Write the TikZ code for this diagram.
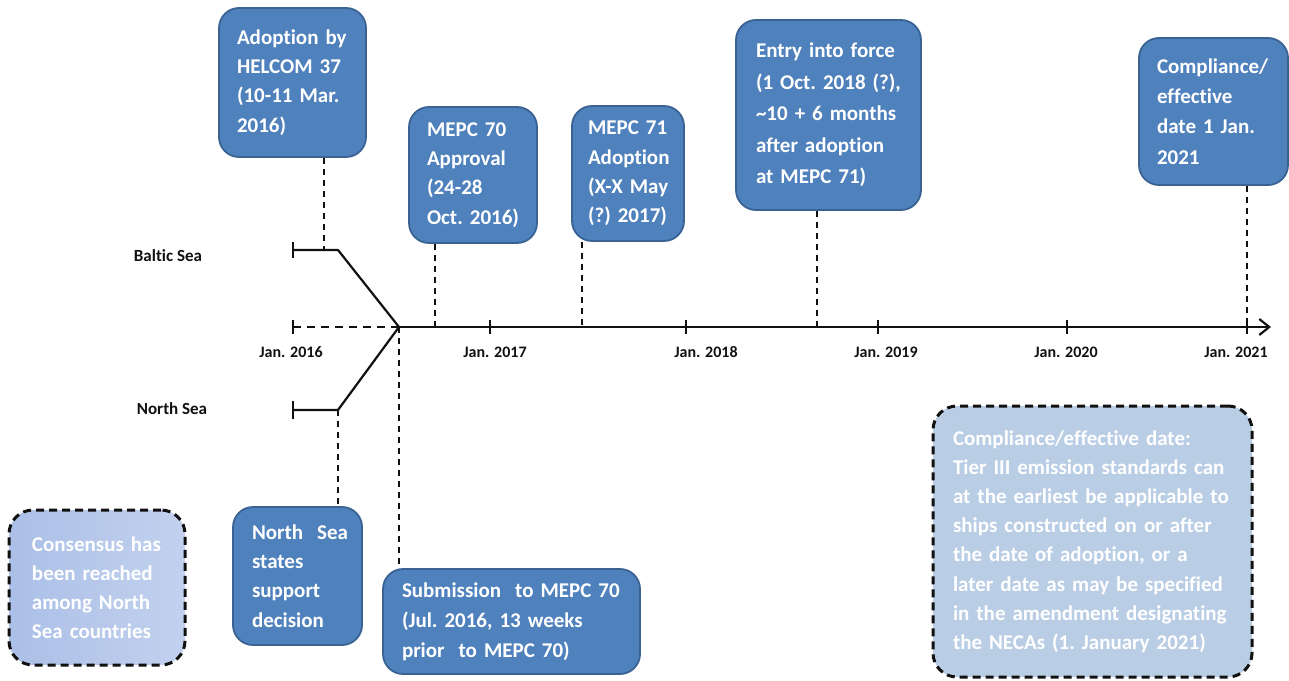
\documentclass[tikz,border=0pt]{standalone}
\usepackage{fontspec}
\setmainfont{Carlito}[Ligatures=NoCommon]
\usetikzlibrary{arrows.meta}
\hyphenpenalty=10000
\exhyphenpenalty=10000
\definecolor{boxblue}{HTML}{4F81BD}
\definecolor{boxedge}{HTML}{3A6394}
\definecolor{notefill}{HTML}{B9CDE5}
\definecolor{consA}{HTML}{ABBFE7}
\definecolor{consB}{HTML}{C2D1EE}
\definecolor{inkline}{HTML}{111111}
\newcommand\boxfont{\bfseries\fontsize{10.5}{14.6}\selectfont}
\begin{document}
\begin{tikzpicture}[x=0.5pt,y=-0.5pt,line join=round,
  evbox/.style={draw=boxedge, line width=0.9pt, fill=boxblue, rounded corners=10pt,
    text=white, font=\boxfont, align=left, inner xsep=9pt, inner ysep=0pt,
    execute at begin node={\hyphenpenalty=10000\exhyphenpenalty=10000}},
  notebox/.style={draw=inkline, line width=1.5pt, dash pattern=on 4pt off 2.5pt,
    rounded corners=12pt, text=white, font=\boxfont, align=left, inner ysep=0pt,
    execute at begin node={\hyphenpenalty=10000\exhyphenpenalty=10000}},
  guide/.style={draw=inkline, line width=0.8pt, dash pattern=on 3pt off 2.5pt},
  axisline/.style={draw=inkline, line width=1.1pt},
  yearlbl/.style={font=\bfseries\fontsize{8}{9.6}\selectfont, text=inkline, inner sep=0pt},
  sealbl/.style={font=\bfseries\fontsize{8.5}{10}\selectfont, text=inkline, inner sep=0pt}]
\useasboundingbox (0,0) rectangle (1289,680);

% --- coordinates on the time axis
\coordinate (start) at (293,327);
\coordinate (merge) at (399,327);
\coordinate (axend) at (1271,327);
\coordinate (t17) at (490,327);
\coordinate (t18) at (686,327);
\coordinate (t19) at (878,327);
\coordinate (t20) at (1067,327);
\coordinate (t21) at (1247,327);
\coordinate (p70) at (435,327);
\coordinate (p71) at (582,327);
\coordinate (pentry) at (817,327);
\coordinate (bstart) at (293,250);
\coordinate (bjoin) at (338,250);
\coordinate (bhel) at (324,250);
\coordinate (nstart) at (293,410);
\coordinate (njoin) at (338,410);

% --- event boxes
\node[evbox, minimum width=73.5pt, minimum height=74.5pt, text width=55.5pt] (adopt) at (292.5,82.5)
  {Adoption~by\\HELCOM~37\\(10-11~Mar.\\2016)};
\node[evbox, minimum width=64pt, minimum height=68pt, text width=46pt] (mepc70) at (473,175)
  {MEPC~70\\Approval\\(24-28\\Oct.~2016)};
\node[evbox, inner xsep=8pt, minimum width=56pt, minimum height=67.5pt, text width=40pt] (mepc71) at (628,173.5)
  {MEPC~71\\Adoption\\(X-X~May\\(?)~2017)};
\node[evbox, inner xsep=10pt, minimum width=92.5pt, minimum height=95pt, text width=72.5pt,
  font=\bfseries\fontsize{10.5}{15.8}\selectfont] (entry) at (828.5,115)
  {Entry~into~force\\(1~Oct.~2018~(?),\\\textasciitilde10~+~6~months\\after~adoption\\at~MEPC~71)};
\node[evbox, minimum width=74.5pt, minimum height=73.5pt, text width=56.5pt,
  font=\bfseries\fontsize{10.5}{15.2}\selectfont] (compl) at (1213.5,111.5)
  {Compliance/\\effective\\date~1~Jan.\\2021};
\node[evbox, inner xsep=9.5pt, minimum width=64.5pt, minimum height=69pt, text width=45.5pt] (nsstates) at (297.5,576)
  {North~~Sea\\states\\support\\decision};
\node[evbox, inner xsep=9.5pt, minimum width=128.5pt, minimum height=52.5pt, text width=109.5pt,
  font=\bfseries\fontsize{10.5}{15}\selectfont] (submit) at (511.5,621.5)
  {Submission~~to~MEPC~70\\(Jul.~2016,~13~weeks\\prior~~to~MEPC~70)};

% --- note boxes
\node[notebox, left color=consA, right color=consB, inner xsep=11.5pt,
  minimum width=88pt, minimum height=77.5pt, text width=65pt] (consensus) at (97,587.5)
  {Consensus~has\\been~reached\\among~North\\Sea~countries};
\node[notebox, fill=notefill, inner xsep=10pt, minimum width=159.5pt, minimum height=135.5pt,
  text width=139.5pt] (note) at (1092.5,541.5)
  {Compliance/effective~date:\\Tier~III~emission~standards~can\\at~the~earliest~be~applicable~to\\ships~constructed~on~or~after\\the~date~of~adoption,~or~a\\later~date~as~may~be~specified\\in~the~amendment~designating\\the~NECAs~(1.~January~2021)};

% --- labels
\node[sealbl] (baltic) at (168,256) {Baltic Sea};
\node[sealbl] (north) at (172,409) {North Sea};
\node[yearlbl] (y16) at (291,352) {Jan. 2016};
\node[yearlbl] (y17) at (495,352) {Jan. 2017};
\node[yearlbl] (y18) at (706,352) {Jan. 2018};
\node[yearlbl] (y19) at (886,352) {Jan. 2019};
\node[yearlbl] (y20) at (1066,352) {Jan. 2020};
\node[yearlbl] (y21) at (1236,352) {Jan. 2021};

% --- axis
\draw[axisline, dash pattern=on 4pt off 3pt] (start) -- (merge);
\draw[axisline, -{Straight Barb[length=5pt,width=8pt]}] (merge) -- (axend);
\foreach \t in {start,t17,t18,t19,t20,t21}
  \draw[axisline] ([yshift=3.5pt]\t) -- ([yshift=-3.5pt]\t);

% --- branches
\draw[axisline] ([yshift=4pt]bstart) -- ([yshift=-4pt]bstart);
\draw[axisline] (bstart) -- (bjoin) -- (merge);
\draw[axisline] ([yshift=4.5pt]nstart) -- ([yshift=-4.5pt]nstart);
\draw[axisline] (nstart) -- (njoin) -- (merge);

% --- guides
\draw[guide] (adopt.south -| bhel) -- (bhel);
\draw[guide] (mepc70.south -| p70) -- (p70);
\draw[guide] (mepc71.south -| p71) -- (p71);
\draw[guide] (entry.south -| pentry) -- (pentry);
\draw[guide] (compl.south -| t21) -- (t21);
\draw[guide] (njoin) -- (nsstates.north -| njoin);
\draw[guide] (merge) -- (submit.north -| merge);
\end{tikzpicture}
\end{document}
